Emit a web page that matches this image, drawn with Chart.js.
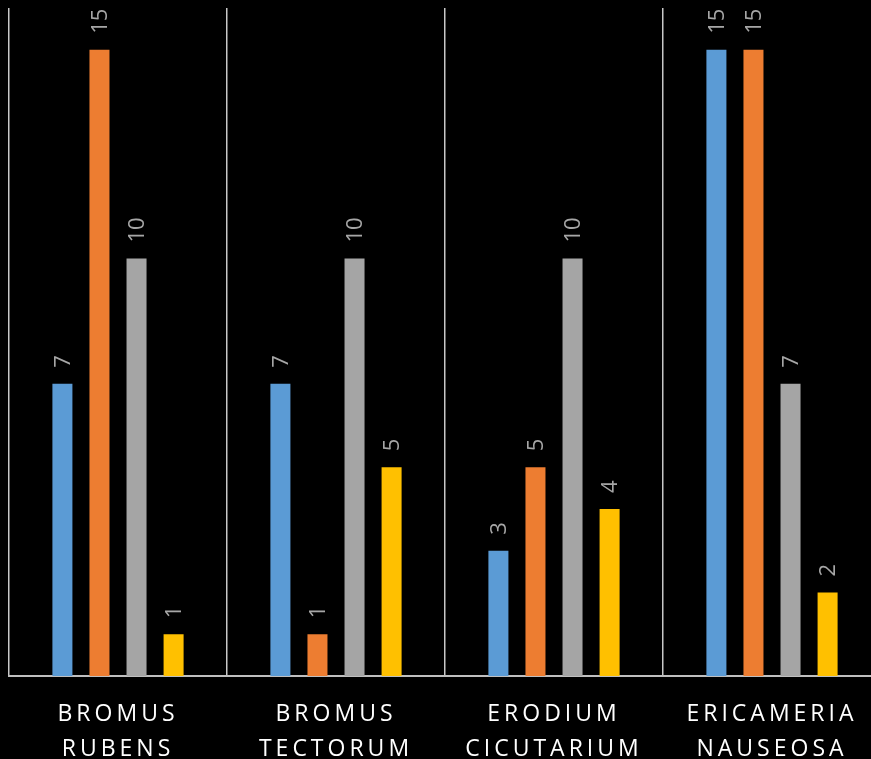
<!DOCTYPE html>
<html>
<head>
<meta charset="utf-8">
<script src="https://cdn.jsdelivr.net/npm/chart.js@4/dist/chart.umd.min.js"></script>
<style>
  html, body { margin:0; padding:0; background:#000; overflow:hidden; }
  #wrap { width:890px; height:759px; }
</style>
</head>
<body>
<div id="wrap"><canvas id="speciesChart" width="890" height="759"></canvas></div>
<script>
const categories = [
  ['BROMUS', 'RUBENS'],
  ['BROMUS', 'TECTORUM'],
  ['ERODIUM', 'CICUTARIUM'],
  ['ERICAMERIA', 'NAUSEOSA']
]
const series1 = [7, 7, 3, 15]
const series2 = [15, 1, 5, 15]
const series3 = [10, 10, 10, 7]
const series4 = [1, 5, 4, 2]
const seriesColors = ['#5b9bd5', '#ed7d31', '#a5a5a5', '#ffc000']

// rotated value labels above bars
const valueLabels = {
  id: 'valueLabels',
  afterDatasetsDraw(chart) {
    const ctx = chart.ctx
    ctx.save()
    ctx.letterSpacing = '0px'
    ctx.font = '22px "Open Sans"'
    ctx.fillStyle = '#a6a6a6'
    ctx.textAlign = 'left'
    ctx.textBaseline = 'middle'
    chart.data.datasets.forEach((ds, i) => {
      chart.getDatasetMeta(i).data.forEach((bar, j) => {
        ctx.save()
        ctx.translate(bar.x + 1, bar.y - 16)
        ctx.rotate(-Math.PI / 2)
        ctx.fillText(String(ds.data[j]), 0, 0)
        ctx.restore()
      })
    })
    ctx.restore()
  }
}

const spacedTicks = {
  id: 'spacedTicks',
  beforeDraw(chart) { chart.ctx.letterSpacing = '4px' },
  beforeDatasetsDraw(chart) { chart.ctx.letterSpacing = '0px' }
}

new Chart(document.getElementById('speciesChart'), {
  type: 'bar',
  data: {
    labels: categories,
    datasets: [
      { label: 'Series 1', data: series1, backgroundColor: seriesColors[0] },
      { label: 'Series 2', data: series2, backgroundColor: seriesColors[1] },
      { label: 'Series 3', data: series3, backgroundColor: seriesColors[2] },
      { label: 'Series 4', data: series4, backgroundColor: seriesColors[3] }
    ]
  },
  options: {
    responsive: false,
    animation: false,
    categoryPercentage: 0.68,
    barPercentage: 0.54,
    layout: { padding: { left: 9, right: 9, top: 8, bottom: 0 } },
    plugins: { legend: { display: false }, tooltip: { enabled: false } },
    scales: {
      x: {
        grid: { display: true, offset: true, drawTicks: false, color: '#c8c8c8', lineWidth: 1.5 },
        border: { display: true, color: '#bfbfbf', width: 2 },
        ticks: {
          color: '#ffffff',
          padding: 21,
          maxRotation: 0,
          font: { family: 'Open Sans', size: 23, lineHeight: 1.52 }
        },
        afterFit(scale) { scale.height = 83 }
      },
      y: {
        display: false,
        min: 0,
        max: 16
      }
    }
  },
  plugins: [spacedTicks, valueLabels]
})
</script>
</body>
</html>
